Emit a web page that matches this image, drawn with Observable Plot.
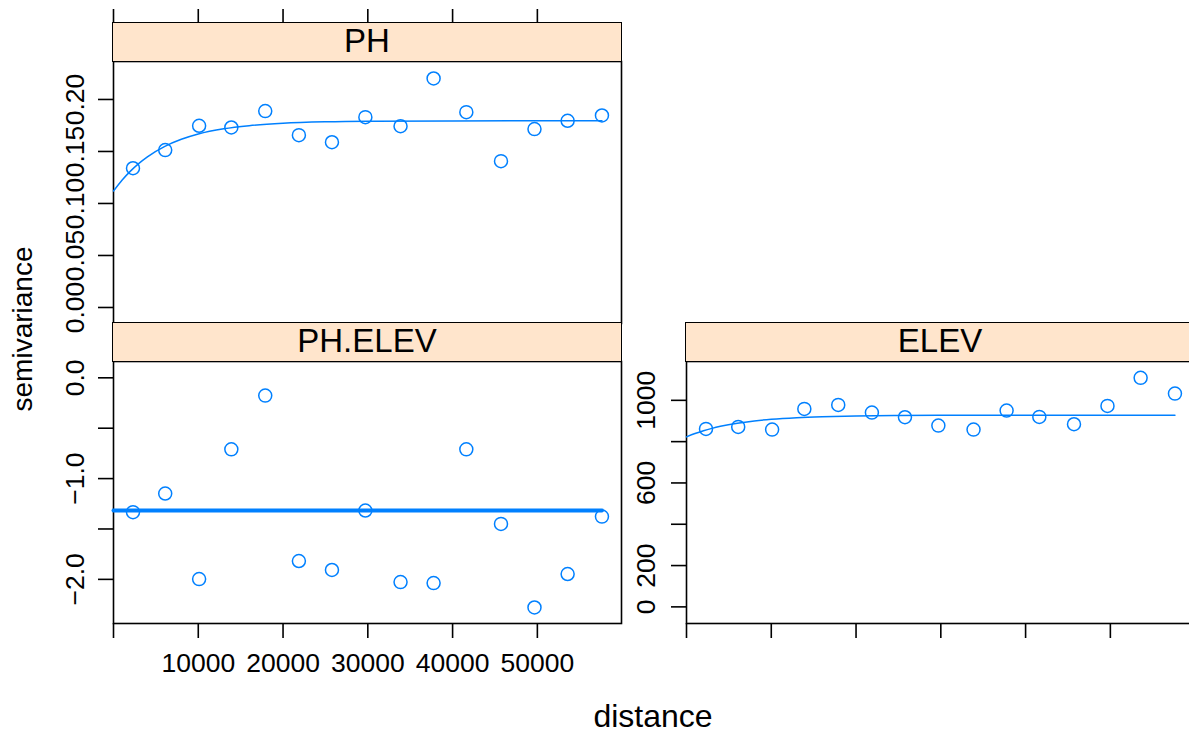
<!DOCTYPE html>
<html>
<head>
<meta charset="utf-8">
<script src="https://cdn.jsdelivr.net/npm/d3@7"></script>
<script src="https://cdn.jsdelivr.net/npm/@observablehq/plot@0.6"></script>
<style>
  html, body { margin: 0; padding: 0; background: white; overflow: hidden; }
  #chart { position: relative; width: 1189px; height: 734px; overflow: hidden; background: white;
           font-family: "Liberation Sans", Arial, Helvetica, sans-serif; color: black; }
  #chart svg { position: absolute; left: 0; top: 0; max-width: none !important; background: transparent !important; }
  .strip { position: absolute; box-sizing: border-box; background: #ffe5cc; border: 1.6px solid black;
           text-align: center; font-size: 33px; line-height: 36px; }
  .lab { position: absolute; white-space: nowrap; }
</style>
</head>
<body>
<div id="chart"></div>
<script>
// ---- data ----
const panels = ["PH", "PH.ELEV", "ELEV"];
const dist = [2300, 6100, 10100, 13900, 17900, 21870, 25770, 29710, 33860, 37760, 41620, 45710, 49660, 53570, 57620];
const gammaPH = [0.1339, 0.1513, 0.1747, 0.1731, 0.1888, 0.1657, 0.1589, 0.1830, 0.1743, 0.2202, 0.1878, 0.1407, 0.1715, 0.1795, 0.1846];
const gammaPHELEV = [-1.333, -1.148, -1.997, -0.710, -0.176, -1.818, -1.907, -1.317, -2.027, -2.037, -0.710, -1.450, -2.279, -1.947, -1.377];
const gammaELEV = [861.6, 871.3, 858.2, 958.5, 977.9, 940.6, 918.3, 877.6, 858.2, 950.3, 919.8, 884.3, 973.1, 1108.8, 1032.7];

// fitted model curves
const modelDist = [0, 1000, 2000, 3000, 4000, 6000, 8000, 10000, 13000, 16000, 20000, 25000, 30000, 40000, 57620];
const modelPH = [0.1120, 0.1224, 0.1311, 0.1386, 0.1449, 0.1547, 0.1617, 0.1668, 0.1718, 0.1748, 0.1771, 0.1785, 0.1791, 0.1794, 0.1795];
const modelELEV = [823, 839.1, 852.8, 864.3, 874.1, 889.4, 900.3, 908.2, 916.0, 920.7, 924.3, 926.4, 927.3, 927.9, 928];
const modelPHELEVDist = [0, 57620];
const modelPHELEV = [-1.317, -1.317];

// axes
const xMax = 59925;
const xTicks = [0, 10000, 20000, 30000, 40000, 50000];
const xTickLabels = ["", "10000", "20000", "30000", "40000", "50000"];
const phTicks = [0, 0.05, 0.10, 0.15, 0.20];
const phTickLabels = ["0.00", "0.05", "0.10", "0.15", "0.20"];
const phelevTicks = [0, -0.5, -1, -1.5, -2];
const phelevTickLabels = ["0.0", "", "\u22121.0", "", "\u22122.0"];
const elevTicks = [0, 200, 400, 600, 800, 1000];
const elevTickLabels = ["0", "200", "", "600", "", "1000"];
const yDomPH = [-0.0154, 0.2365];
const yDomPHELEV = [-2.438, 0.162];
const yDomELEV = [-80.5, 1188];
const xLabel = "distance";
const yLabel = "semivariance";

// ---- layout ----
const W = 1200, H = 734;
const blue = "#0080ff";
const style = {background: "transparent", overflow: "visible", fontSize: "26.5px", maxWidth: "none",
  fontFamily: "'Liberation Sans', Arial, Helvetica, sans-serif", color: "black"};
const lookup = (ticks, labels) => d => labels[ticks.findIndex(t => Math.abs(t - d) < 1e-9)] ?? "";
const pts = (g) => dist.map((d, i) => ({d, g: g[i]}));
const curve = (ds, g) => ds.map((d, i) => ({d, g: g[i]}));

function panel({left, right, top, bottom, yDomain, yTicks, yLabels, yPad, pointsG, model, modelW, bottomLabels}) {
  const marks = [
    Plot.frame({stroke: "black", strokeWidth: 1.6}),
    Plot.axisY({anchor: "left", ticks: yTicks, tickFormat: lookup(yTicks, yLabels), tickSize: 15,
      tickPadding: yPad, tickRotate: -90, strokeWidth: 1.6, label: null}),
    Plot.line(model, {x: "d", y: "g", stroke: blue, strokeWidth: modelW, curve: "monotone-x"}),
    Plot.dot(pointsG, {x: "d", y: "g", r: 6.5, stroke: blue, strokeWidth: 1.5, fill: "none"})
  ];
  if (bottomLabels) {
    marks.push(Plot.axisX({anchor: "bottom", ticks: xTicks, tickFormat: lookup(xTicks, bottomLabels),
      tickSize: 15, tickPadding: 15, strokeWidth: 1.6, label: null}));
  }
  return Plot.plot({
    width: W, height: H,
    marginLeft: left, marginRight: W - right, marginTop: top, marginBottom: H - bottom,
    x: {domain: [0, xMax], axis: null},
    y: {domain: yDomain},
    style,
    marks
  });
}

const chart = document.getElementById("chart");

// top tick marks above the PH strip
chart.appendChild(Plot.plot({
  width: W, height: H,
  marginLeft: 113, marginRight: W - 621, marginTop: 23, marginBottom: H - 24,
  x: {domain: [0, xMax]},
  style,
  marks: [Plot.axisX({anchor: "top", ticks: xTicks, tickFormat: () => "", tickSize: 15, strokeWidth: 1.6, label: null})]
}));

chart.appendChild(panel({left: 113, right: 621, top: 61, bottom: 323, yDomain: yDomPH,
  yTicks: phTicks, yLabels: phTickLabels, yPad: 15, pointsG: pts(gammaPH),
  model: curve(modelDist, modelPH), modelW: 1.5}));

chart.appendChild(panel({left: 113, right: 621, top: 361, bottom: 623, yDomain: yDomPHELEV,
  yTicks: phelevTicks, yLabels: phelevTickLabels, yPad: 15, pointsG: pts(gammaPHELEV),
  model: curve(modelPHELEVDist, modelPHELEV), modelW: 4, bottomLabels: xTickLabels}));

chart.appendChild(panel({left: 686, right: 1194, top: 361, bottom: 623, yDomain: yDomELEV,
  yTicks: elevTicks, yLabels: elevTickLabels, yPad: 17, pointsG: pts(gammaELEV),
  model: curve(modelDist, modelELEV), modelW: 1.5, bottomLabels: xTicks.map(() => "")}));

// strips
const strips = [
  {name: panels[0], left: 113, top: 23},
  {name: panels[1], left: 113, top: 323},
  {name: panels[2], left: 686, top: 323}
];
for (const s of strips) {
  const div = document.createElement("div");
  div.className = "strip";
  div.style.left = (s.left - 0.8) + "px";
  div.style.top = (s.top - 0.8) + "px";
  div.style.width = (508 + 1.6) + "px";
  div.style.height = (38 + 1.6) + "px";
  div.textContent = s.name;
  chart.appendChild(div);
}

// axis titles
const xl = document.createElement("div");
xl.className = "lab";
xl.style.fontSize = "32px"; xl.style.lineHeight = "32px";
xl.style.left = "0px"; xl.style.width = "1306px"; xl.style.textAlign = "center";
xl.style.top = "700px";
xl.textContent = xLabel;
chart.appendChild(xl);

const yl = document.createElement("div");
yl.className = "lab";
yl.style.fontSize = "28px"; yl.style.lineHeight = "28px";
yl.style.left = "23px"; yl.style.top = "329px";
yl.style.transform = "translate(-50%, -50%) rotate(-90deg)";
yl.textContent = yLabel;
chart.appendChild(yl);
</script>
</body>
</html>
